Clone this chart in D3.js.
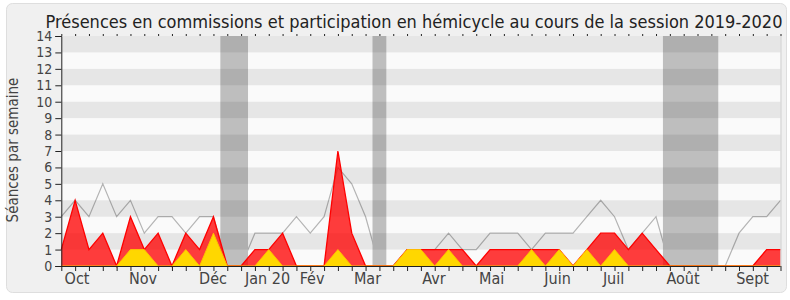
<!DOCTYPE html>
<html>
<head>
<meta charset="utf-8">
<script src="https://cdn.jsdelivr.net/npm/d3@7"></script>
<style>
body { margin: 0; background: #fff; }
text { font-family: "DejaVu Sans Condensed", "DejaVu Sans", sans-serif; }
</style>
</head>
<body>
<script>
// une valeur par semaine, de fin septembre 2019 à fin septembre 2020
var presences = [1, 4, 1, 2, 0, 3, 1, 2, 0, 2, 1, 3, 0, 0, 1, 1, 2, 0, 0, 0, 7, 2, 0, 0, 0, 1, 1, 1, 1, 1, 0, 1, 1, 1, 1, 1, 1, 0, 1, 2, 2, 1, 2, 1, 0, 0, 0, 0, 0, 0, 0, 1, 1];
var interventions = [0, 0, 0, 0, 0, 1, 1, 0, 0, 1, 0, 2, 0, 0, 0, 1, 0, 0, 0, 0, 1, 0, 0, 0, 0, 1, 1, 0, 1, 0, 0, 0, 0, 0, 1, 0, 1, 0, 1, 0, 1, 0, 0, 0, 0, 0, 0, 0, 0, 0, 0, 0, 0];
var mediane = [3, 4, 3, 5, 3, 4, 2, 3, 3, 2, 3, 3, 0, 0, 2, 2, 2, 3, 2, 3, 6, 5, 3, 0, 0, 1, 1, 1, 2, 1, 1, 2, 2, 2, 1, 2, 2, 2, 3, 4, 3, 1, 2, 3, 0, 0, 0, 0, 0, 2, 3, 3, 4];
var vacances = [[11.5, 13.5], [22.5, 23.5], [43.5, 47.5]];
var mois = ["Oct", "Nov", "Déc", "Jan 20", "Fév", "Mar", "Avr", "Mai", "Juin", "Juil", "Août", "Sept"];
var moisSemaine = [1.14, 5.91, 10.97, 14.91, 18.13, 22.14, 26.95, 31.12, 35.88, 39.93, 44.95, 49.98];
var yTicks = d3.range(0, 15);

var w = 790, h = 300;
var pLeft = 61.3, pRight = 780.5, pTop = 36, pBottom = 266;

var svg = d3.select("body").append("svg").attr("width", w).attr("height", h);

// cadre
svg.append("rect").attr("x", 6.5).attr("y", 3.5).attr("width", 780).attr("height", 289)
    .attr("rx", 6).attr("fill", "#f0f0f0").attr("stroke", "#dedede");

var x = d3.scaleLinear().domain([0, presences.length - 1]).range([pLeft, pRight]);
var y = d3.scaleLinear().domain([0, 14]).range([pBottom, pTop]);

// fond
svg.append("rect").attr("x", pLeft).attr("y", pTop).attr("width", pRight - pLeft).attr("height", pBottom - pTop)
    .attr("fill", "#fafafa");

var line = d3.line().x(function (d, i) { return x(i); }).y(function (d) { return y(d); });
var area = d3.area().x(function (d, i) { return x(i); }).y0(y(0)).y1(function (d) { return y(d); });

// médiane sous les vacances
svg.append("path").attr("d", line(mediane)).attr("fill", "none").attr("stroke", "#b4b4b4").attr("stroke-width", 1.2);

svg.selectAll("rect.vac")
    .data(vacances)
    .enter()
    .append("rect")
    .attr("class", "vac")
    .attr("x", function (d) { return x(d[0]); })
    .attr("y", pTop)
    .attr("width", function (d) { return x(d[1]) - x(d[0]); })
    .attr("height", pBottom - pTop)
    .attr("fill", "#bebebe");

// bandes horizontales
svg.selectAll("rect.band")
    .data(yTicks.filter(function (d) { return d % 2 == 1; }))
    .enter()
    .append("rect")
    .attr("class", "band")
    .attr("x", pLeft)
    .attr("y", function (d) { return y(d + 1); })
    .attr("width", pRight - pLeft)
    .attr("height", function (d) { return y(d) - y(d + 1); })
    .attr("fill", "rgba(0,0,0,0.08)");

svg.append("path").attr("d", area(presences)).attr("fill", "rgba(255,0,0,0.76)");
svg.append("path").attr("d", line(presences)).attr("fill", "none").attr("stroke", "#ff0000").attr("stroke-width", 1.3);

svg.append("path").attr("d", area(interventions)).attr("fill", "#ffd700");
svg.append("path").attr("d", line(interventions)).attr("fill", "none").attr("stroke", "#ffc000").attr("stroke-width", 1);

// bord droit
svg.append("line").attr("x1", pRight + 0.5).attr("x2", pRight + 0.5).attr("y1", pTop).attr("y2", pBottom)
    .attr("stroke", "#cfcfcf");

// axes
var semaines = d3.range(0, presences.length);
var xAxis = d3.axisBottom(x).tickValues(semaines).tickSize(5).tickFormat("");
var gx = svg.append("g").attr("transform", "translate(0," + pBottom + ")").call(xAxis);
gx.select(".domain").attr("stroke", "#222").attr("d", "M" + pLeft + ",0.5H" + pRight);
gx.selectAll("line").attr("stroke", "#222");

var xTop = d3.axisTop(x).tickValues(semaines).tickSize(2).tickFormat("");
var gt = svg.append("g").attr("transform", "translate(0," + pTop + ")").call(xTop);
gt.select(".domain").remove();
gt.selectAll("line").attr("stroke", "#222");

svg.selectAll("text.mois")
    .data(mois)
    .enter()
    .append("text")
    .attr("class", "mois")
    .attr("x", function (d, i) { return x(moisSemaine[i]); })
    .attr("y", 284)
    .attr("text-anchor", "middle")
    .attr("font-size", "16px")
    .attr("fill", "#444")
    .text(function (d) { return d; });

var yAxis = d3.axisLeft(y).tickValues(yTicks).tickSize(6).tickPadding(3);
var gy = svg.append("g").attr("transform", "translate(" + pLeft + ",0)").call(yAxis);
gy.select(".domain").attr("stroke", "#222");
gy.selectAll("line").attr("stroke", "#222");
gy.selectAll("text").attr("font-size", "14px").attr("fill", "#444")
    .style("font-family", "\"DejaVu Sans Condensed\", \"DejaVu Sans\", sans-serif");

svg.append("text")
    .attr("transform", "translate(18,150) rotate(-90)")
    .attr("text-anchor", "middle")
    .attr("font-size", "15px")
    .attr("fill", "#444")
    .text("Séances par semaine");

svg.append("text")
    .attr("x", 414)
    .attr("y", 28)
    .attr("text-anchor", "middle")
    .attr("font-size", "18px")
    .attr("fill", "#222")
    .text("Présences en commissions et participation en hémicycle au cours de la session 2019-2020");
</script>
</body>
</html>
